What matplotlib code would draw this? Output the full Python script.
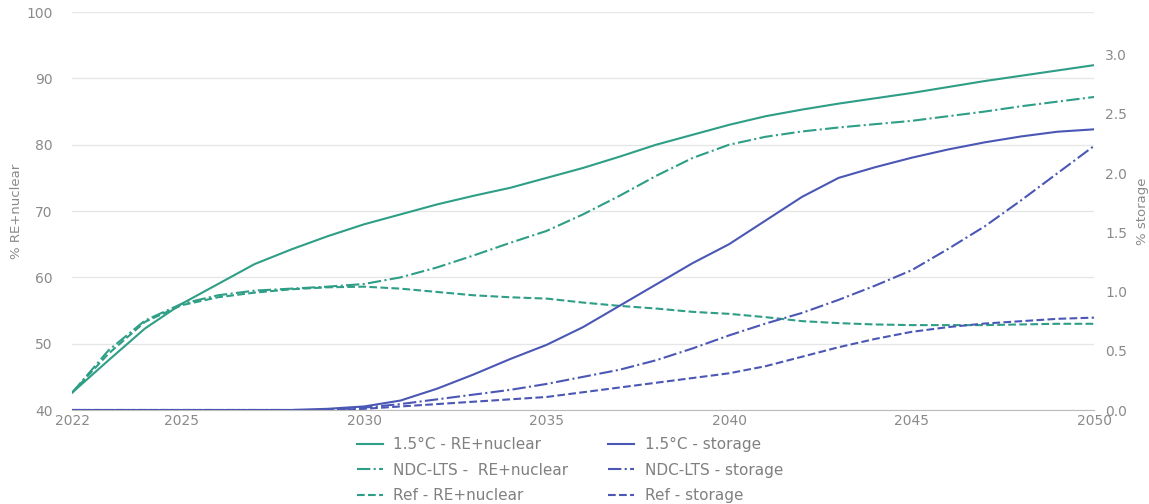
import matplotlib.pyplot as plt

plt.rcParams['font.family'] = ['DejaVu Sans']

years = list(range(2022, 2051))

# % RE + nuclear (left axis)
re_15 = [42.6, 47.5, 52.3, 56.0, 59.0, 62.0, 64.2, 66.2, 68.0, 69.5,
         71.0, 72.3, 73.5, 75.0, 76.5, 78.2, 80.0, 81.5, 83.0, 84.3,
         85.3, 86.2, 87.0, 87.8, 88.7, 89.6, 90.4, 91.2, 92.0]
re_ndc = [42.6, 49.0, 53.5, 56.0, 57.3, 58.0, 58.3, 58.6, 59.0, 60.0,
          61.5, 63.3, 65.2, 67.0, 69.5, 72.3, 75.3, 78.0, 80.0, 81.2,
          82.0, 82.6, 83.1, 83.6, 84.3, 85.0, 85.8, 86.5, 87.2]
re_ref = [42.6, 48.5, 53.3, 55.8, 57.0, 57.7, 58.2, 58.5, 58.6, 58.3,
          57.8, 57.3, 57.0, 56.8, 56.2, 55.7, 55.3, 54.8, 54.5, 54.0,
          53.4, 53.1, 52.9, 52.8, 52.8, 52.8, 52.9, 53.0, 53.0]

# % storage (right axis)
st_15 = [0.0, 0.0, 0.0, 0.0, 0.0, 0.0, 0.0, 0.01, 0.03, 0.08,
         0.18, 0.30, 0.43, 0.55, 0.70, 0.88, 1.06, 1.24, 1.40, 1.60,
         1.80, 1.96, 2.05, 2.13, 2.20, 2.26, 2.31, 2.35, 2.37]
st_ndc = [0.0, 0.0, 0.0, 0.0, 0.0, 0.0, 0.0, 0.0, 0.02, 0.05,
          0.09, 0.13, 0.17, 0.22, 0.28, 0.34, 0.42, 0.52, 0.63, 0.73,
          0.82, 0.93, 1.05, 1.18, 1.36, 1.55, 1.77, 2.00, 2.23]
st_ref = [0.0, 0.0, 0.0, 0.0, 0.0, 0.0, 0.0, 0.0, 0.01, 0.03,
          0.05, 0.07, 0.09, 0.11, 0.15, 0.19, 0.23, 0.27, 0.31, 0.37,
          0.45, 0.53, 0.60, 0.66, 0.70, 0.73, 0.75, 0.77, 0.78]

teal = '#2e9e86'
blue = '#4b57b5'
grey = '#8a8a8a'

fig = plt.figure(figsize=(11.49, 5.04), dpi=100)
ax = fig.add_axes([0.0627, 0.1865, 0.8895, 0.7895])
ax2 = ax.twinx()

l1, = ax.plot(years, re_15, color=teal, lw=1.5, label='1.5°C - RE+nuclear')
l2, = ax.plot(years, re_ndc, color=teal, lw=1.5, ls='-.', label='NDC-LTS -  RE+nuclear')
l3, = ax.plot(years, re_ref, color=teal, lw=1.5, ls='--', label='Ref - RE+nuclear')
l4, = ax2.plot(years, st_15, color=blue, lw=1.5, label='1.5°C - storage')
l5, = ax2.plot(years, st_ndc, color=blue, lw=1.5, ls='-.', label='NDC-LTS - storage')
l6, = ax2.plot(years, st_ref, color=blue, lw=1.5, ls='--', label='Ref - storage')

ax.set_xlim(2022, 2050)
ax.set_ylim(40, 100)
ax2.set_ylim(0, 3.36)
ax.set_xticks([2022, 2025, 2030, 2035, 2040, 2045, 2050])
ax.set_yticks(range(40, 101, 10))
ax2.set_yticks([0, 0.5, 1.0, 1.5, 2.0, 2.5, 3.0])
ax2.set_yticklabels(['0.0', '0.5', '1.0', '1.5', '2.0', '2.5', '3.0'])

ax.grid(axis='y', color='#e6e6e6', lw=0.9)
ax.set_axisbelow(True)
for a in (ax, ax2):
    for s in a.spines.values():
        s.set_visible(False)
    a.tick_params(length=0, labelsize=10, labelcolor=grey)
ax.spines['bottom'].set_visible(True)
ax.spines['bottom'].set_color('#bbbbbb')
ax.tick_params(axis='x', pad=3)
ax.tick_params(axis='y', pad=14)
ax2.tick_params(axis='y', pad=8)

ax.set_ylabel('% RE+nuclear', color=grey, fontsize=9.5, labelpad=2)
ax2.set_ylabel('% storage', color=grey, fontsize=9.5, labelpad=6)

fig.legend(handles=[l1, l2, l3, l4, l5, l6], loc='upper center',
           bbox_to_anchor=(0.496, 0.16), ncol=2, frameon=False,
           fontsize=11, labelcolor='#808080', labelspacing=0.68,
           handlelength=1.7, handletextpad=0.7, columnspacing=2.6)

fig.savefig('out.png', dpi=100)
